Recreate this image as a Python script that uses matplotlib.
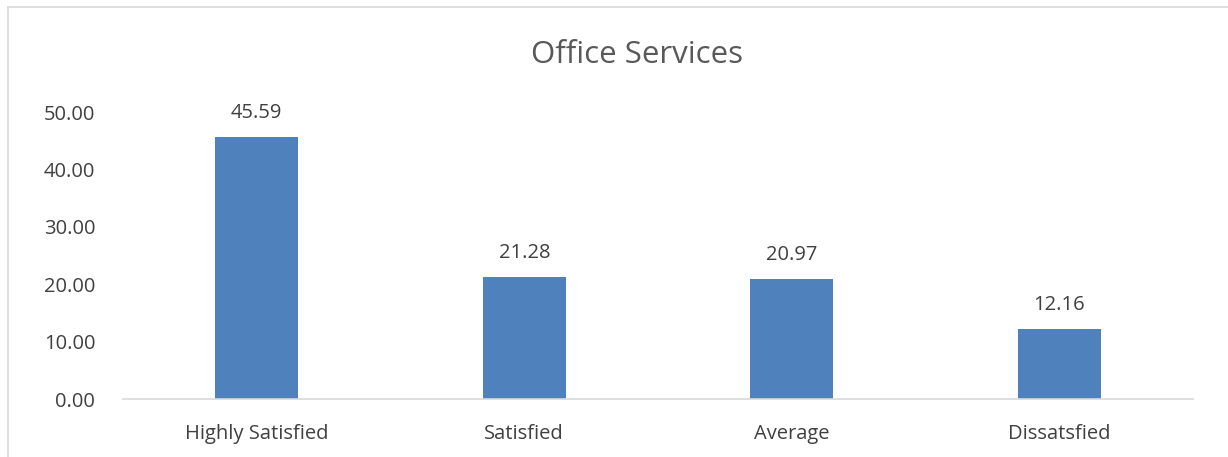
import numpy as np
import matplotlib.pyplot as plt
from matplotlib.lines import Line2D

# data
categories = ["Highly Satisfied", "Satisfied", "Average", "Dissatsfied"]
values = [45.59, 21.28, 20.97, 12.16]
yticks = [0, 10, 20, 30, 40, 50]

plt.rcParams['font.family'] = ['Open Sans', 'DejaVu Sans']
text_col = '#404040'
bar_col = '#4f81bd'
fs = 14.5

fig = plt.figure(figsize=(12.28, 4.57), dpi=100)
ax = fig.add_axes([0.1002, 0.1269, 0.8713, 0.628])

x = np.arange(len(categories))
bars = ax.bar(x, values, width=0.31, color=bar_col)

for b, v in zip(bars, values):
    ax.annotate("%.2f" % v, (b.get_x() + b.get_width() / 2, v),
                xytext=(0, 10), textcoords='offset points',
                ha='center', va='bottom', fontsize=fs, color=text_col)

ax.set_xlim(-0.5, len(categories) - 0.5)
ax.set_ylim(0, 50)
ax.set_yticks(yticks)
ax.set_yticklabels(["%.2f" % t for t in yticks], fontsize=fs, color=text_col)
ax.set_xticks(x)
ax.set_xticklabels(categories, fontsize=fs, color=text_col)
ax.tick_params(axis='both', length=0)
ax.tick_params(axis='y', pad=20)
ax.tick_params(axis='x', pad=18)

for s in ['top', 'right', 'left']:
    ax.spines[s].set_visible(False)
ax.spines['bottom'].set_color('#d9d9d9')
ax.spines['bottom'].set_linewidth(1.2)

fig.text(0.519, 0.88, "Office Services", ha='center', va='center',
         fontsize=22.5, color='#595959')

# light frame around the chart area
fig.add_artist(Line2D([8 / 1228, 1], [1 - 7 / 457, 1 - 7 / 457],
                      transform=fig.transFigure, color='#d9d9d9', lw=1.2))
fig.add_artist(Line2D([8 / 1228, 8 / 1228], [0, 1 - 7 / 457],
                      transform=fig.transFigure, color='#d9d9d9', lw=1.2))

fig.savefig("out.png", dpi=100)
